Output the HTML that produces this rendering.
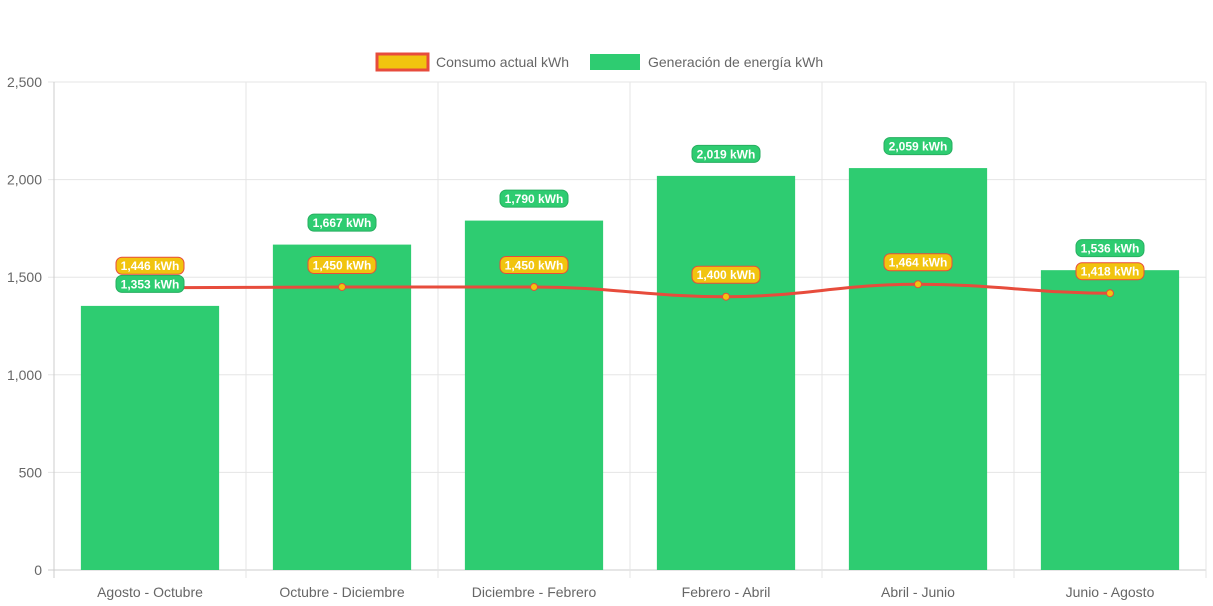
<!DOCTYPE html>
<html><head><meta charset="utf-8">
<style>
body{margin:0;background:#fff;}
svg{display:block;font-family:"Liberation Sans",Arial,sans-serif;}
</style></head>
<body>
<svg id="chart" width="1213" height="606"></svg>
<script>
const categories=["Agosto - Octubre","Octubre - Diciembre","Diciembre - Febrero","Febrero - Abril","Abril - Junio","Junio - Agosto"];
const generacion=[1353,1667,1790,2019,2059,1536];
const consumo=[1446,1450,1450,1400,1464,1418];
const yTicks=[0,500,1000,1500,2000,2500];
const yTickLabels=["0","500","1,000","1,500","2,000","2,500"];

const svg=document.getElementById('chart');
const NS='http://www.w3.org/2000/svg';
const L=54,R=1206,T=82,B=570,yMax=2500;
const bw=(R-L)/categories.length;
const y=v=>B-(v/yMax)*(B-T);
const xc=i=>L+bw*(i+0.5);
function el(tag,attrs,parent){const e=document.createElementNS(NS,tag);for(const k in attrs)e.setAttribute(k,attrs[k]);(parent||svg).appendChild(e);return e;}
const fmt=v=>v.toLocaleString('en-US');

// grid
yTicks.forEach((t,i)=>{
  const g=el('line',{x1:L-6,x2:R,y1:y(t),y2:y(t),stroke:i===0?'#ccc':'#e5e5e5','stroke-width':1});
  
  
  const tx=el('text',{x:L-12,y:y(t)+5,'text-anchor':'end','font-size':14,fill:'#666'});
  tx.textContent=yTickLabels[i];
  
  
});
for(let i=0;i<=categories.length;i++){
  const x=L+bw*i;
  const g=el('line',{x1:x,x2:x,y1:T,y2:B+8,stroke:i===0?'#ccc':'#e5e5e5','stroke-width':1});
  
  
}
categories.forEach((c,i)=>{
  const tx=el('text',{x:xc(i),y:597,'text-anchor':'middle','font-size':14,fill:'#666'});
  tx.textContent=c;
  
  
});
// bars
const barW=bw*0.72;
generacion.forEach((v,i)=>{
  const r=el('rect',{x:xc(i)-barW/2,y:y(v),width:barW,height:B-y(v),fill:'#2ecc71'});
  
  
});
// line (monotone-ish smooth)
const pts=consumo.map((v,i)=>[xc(i),y(v)]);
let d=`M${pts[0][0]},${pts[0][1]}`;
for(let i=1;i<pts.length;i++){
  const p0=pts[i-1],p1=pts[i];const dx=(p1[0]-p0[0])*0.4;
  d+=` C${p0[0]+dx},${p0[1]} ${p1[0]-dx},${p1[1]} ${p1[0]},${p1[1]}`;
}
const line=el('path',{d:d,fill:'none',stroke:'#e74c3c','stroke-width':3});


pts.forEach((p,i)=>{
  if(i===0)return;
  const c=el('circle',{cx:p[0],cy:p[1],r:3.5,fill:'#f1c40f',stroke:'#e74c3c','stroke-width':1});
  
  
});
// labels
function label(x,cy,text,fill,stroke,name){
  const w=68,h=17;
  const r=el('rect',{x:x-w/2,y:cy-h/2,width:w,height:h,rx:6,fill:fill,stroke:stroke,'stroke-width':1});
  
  
  const t=el('text',{x:x,y:cy+4.5,'text-anchor':'middle','font-size':12,'font-weight':'bold',fill:'#fff'});
  t.textContent=text;
  
  
}
generacion.forEach((v,i)=>label(xc(i),y(v)-22,fmt(v)+' kWh','#2ecc71','#27ae60','generation-value-label'));
consumo.forEach((v,i)=>label(xc(i),y(v)-22,fmt(v)+' kWh','#f1c40f','#e74c3c','consumption-value-label'));
// legend
const lg1=el('rect',{x:377,y:54,width:51,height:16,fill:'#f1c40f',stroke:'#e74c3c','stroke-width':3});


const lt1=el('text',{x:436,y:67,'font-size':14,fill:'#666'});lt1.textContent='Consumo actual kWh';


const lg2=el('rect',{x:590,y:54,width:50,height:16,fill:'#2ecc71'});


const lt2=el('text',{x:648,y:67,'font-size':14,fill:'#666'});lt2.textContent='Generación de energía kWh';


</script>
</body></html>
